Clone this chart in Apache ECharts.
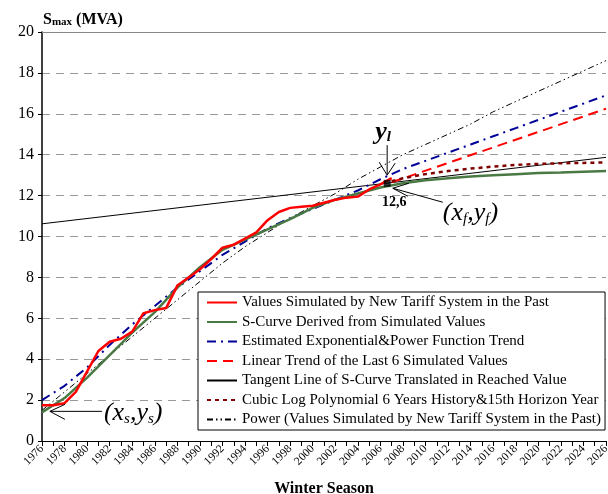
<!DOCTYPE html>
<html>
<head>
<meta charset="utf-8">
<script src="https://cdn.jsdelivr.net/npm/echarts@6/dist/echarts.min.js"></script>
<style>
html, body { margin: 0; padding: 0; background: #fff; }
#chart { width: 608px; height: 494px; }
</style>
</head>
<body>
<div id="chart"></div>
<script>
// values
var pastYears = [1976,1977,1978,1979,1980,1981,1982,1983,1984,1985,1986,1987,1988,1989,1990,1991,
                 1992,1993,1994,1995,1996,1997,1998,1999,2000,2001,2002,2003,2004,2005,2006,2007];
var simulated = [1.75,1.75,1.85,2.4,3.4,4.4,4.85,5.0,5.35,6.25,6.4,6.5,7.6,8.0,8.4,8.9,
                 9.45,9.6,9.9,10.2,10.8,11.2,11.4,11.45,11.5,11.65,11.8,11.9,11.95,12.3,12.55,12.85];

var curveYears = [1976,1978,1980,1982,1984,1986,1988,1990,1992,1994,1996,1998,2000,
                  2002,2004,2006,2008,2010,2012,2014,2016,2018,2020,2022,2024,2026];
var sCurve     = [1.4,2.1,3.1,4.2,5.3,6.3,7.5,8.5,9.35,9.85,10.35,10.85,11.4,
                  11.8,12.1,12.4,12.6,12.75,12.85,12.93,13.0,13.05,13.1,13.13,13.17,13.2];
var expPower   = [2.0,2.7,3.6,4.7,5.7,6.6,7.5,8.3,9.1,9.75,10.4,10.9,11.35,
                  11.8,12.25,12.8,13.3,13.7,14.1,14.5,14.9,15.3,15.7,16.1,16.5,16.9];
var powerFit   = [1.5,2.4,3.3,4.2,5.1,6.0,6.9,7.8,8.7,9.5,10.2,10.9,11.5,
                  12.1,12.8,13.4,14.0,14.5,15.0,15.5,16.1,16.6,17.1,17.6,18.1,18.6];

var tangentYears = [1976, 2026];
var tangent      = [10.62, 13.87];

var linearYears = [2007, 2026];
var linear      = [12.65, 16.25];

var cubicYears = [2007,2008,2010,2012,2014,2016,2018,2020,2022,2024,2026];
var cubic      = [12.7,12.85,13.05,13.2,13.32,13.42,13.5,13.55,13.58,13.6,13.62];

var reachedPoint = [2006.6, 12.6];
var startPoint = [1976.7, 1.45];
var ylPoint = [2006.6, 13.0];
var finalPoint = [2007.1, 12.36];

var names = [
  'Values Simulated by New Tariff System in the Past',
  'S-Curve Derived from Simulated Values',
  'Estimated Exponential&Power Function Trend',
  'Linear Trend of the Last 6 Simulated Values',
  'Tangent Line of S-Curve Translated in Reached Value',
  'Cubic Log Polynomial 6 Years History&15th Horizon Year',
  'Power (Values Simulated by New Tariff System in the Past)'
];

var serif = 'Liberation Serif';

function pairs(xs, ys) {
  return xs.map(function (x, i) { return [x, ys[i]]; });
}

function lineSeries(name, data, color, width, type, z) {
  return {
    name: name, type: 'line', data: data, showSymbol: false, symbol: 'none',
    lineStyle: { color: color, width: width, type: type },
    itemStyle: { color: color },
    z: z || 2, animation: false
  };
}

var chart = echarts.init(document.getElementById('chart'));

var option = {
  animation: false,
  title: {
    text: '{s|S}{m|max}{s| (MVA)}',
    left: 38, top: 6,
    textStyle: {
      rich: {
        s: { fontFamily: serif, fontWeight: 'bold', fontSize: 16, color: '#000' },
        m: { fontFamily: serif, fontWeight: 'bold', fontSize: 11, color: '#000', padding: [6, 0, 0, 0] }
      }
    }
  },
  grid: { left: 42, right: 2, top: 32, bottom: 53, outerBoundsMode: 'none', containLabel: false },
  legend: {
    orient: 'vertical',
    left: 198, top: 292,
    padding: [3, 4, 3, 8],
    itemWidth: 30, itemHeight: 14, itemGap: 4.5,
    itemStyle: { opacity: 0 },
    backgroundColor: '#fff',
    borderColor: '#000', borderWidth: 1, borderRadius: 0,
    textStyle: { fontFamily: serif, fontSize: 15, color: '#000' },
    data: names
  },
  xAxis: {
    type: 'value', min: 1976, max: 2026, interval: 1,
    name: 'Winter Season', nameLocation: 'middle', nameGap: 40,
    nameTextStyle: { fontFamily: serif, fontWeight: 'bold', fontSize: 16, color: '#000' },
    axisLine: { lineStyle: { color: '#000', width: 1 } },
    axisTick: { length: 5, lineStyle: { color: '#000' } },
    axisLabel: {
      rotate: 45, fontFamily: serif, fontSize: 11.5, color: '#000', margin: 6,
      formatter: function (v) { return v % 2 === 0 ? String(v) : ''; }
    },
    splitLine: { show: false }
  },
  yAxis: {
    type: 'value', min: 0, max: 20, interval: 2,
    axisLine: { show: true, lineStyle: { color: '#000', width: 1.5 } },
    axisTick: { show: true, length: 4, lineStyle: { color: '#000' } },
    axisLabel: { fontFamily: serif, fontSize: 16, color: '#000', margin: 8 },
    splitLine: { lineStyle: { color: '#999', type: [8, 6], width: 1 } }
  },
  series: [
    lineSeries(names[0], pairs(pastYears, simulated), '#ff0000', 2.5, 'solid', 6),
    lineSeries(names[1], pairs(curveYears, sCurve), '#4a7a44', 2.5, 'solid', 5),
    lineSeries(names[2], pairs(curveYears, expPower), '#000099', 2, [9, 5, 2, 5], 4),
    lineSeries(names[3], pairs(linearYears, linear), '#ff0000', 2, [10, 6], 4),
    lineSeries(names[4], pairs(tangentYears, tangent), '#000000', 1, 'solid', 3),
    lineSeries(names[5], pairs(cubicYears, cubic), '#800000', 2.5, [4, 4], 4),
    lineSeries(names[6], pairs(curveYears, powerFit), '#000000', 1, [6, 3, 1.5, 3, 1.5, 3], 3),
    {
      type: 'scatter', data: [reachedPoint], symbol: 'rect', symbolSize: 7,
      itemStyle: { color: '#000' }, z: 8, silent: true,
      markLine: {
        silent: true, symbol: 'none', label: { show: false },
        lineStyle: { color: '#888', type: 'solid', width: 1 },
        data: [{ yAxis: 20 }]
      }
    }
  ]
};
chart.setOption(option);

// annotations placed from data coordinates
function px(p) { return chart.convertToPixel({ gridIndex: 0 }, p); }
var thin = { stroke: '#000', lineWidth: 1, fill: null };
var g = [];

var s = px(startPoint);
g.push({ type: 'polyline', shape: { points: [[s[0], s[1]], [s[0] + 52, s[1]]] }, style: thin, z: 20 });
g.push({ type: 'polyline', shape: { points: [[s[0] + 15, s[1] - 7], [s[0], s[1]], [s[0] + 15, s[1] + 8]] }, style: thin, z: 20 });
g.push({ type: 'text', x: s[0] + 54, y: s[1] + 2, z: 20,
  style: { text: '{p|(}{v|x}{sub|s}{p|,}{v|y}{sub|s}{p|)}', verticalAlign: 'middle',
    rich: {
      p: { fontFamily: serif, fontSize: 26, fontStyle: 'italic', fill: '#000' },
      v: { fontFamily: serif, fontSize: 26, fontStyle: 'italic', fill: '#000' },
      sub: { fontFamily: serif, fontSize: 15, fontStyle: 'italic', fill: '#000', padding: [12, 0, 0, 0] }
    } } });

var yl = px(ylPoint);
g.push({ type: 'polyline', shape: { points: [[yl[0], yl[1]], [yl[0], yl[1] - 30]] }, style: thin, z: 20 });
g.push({ type: 'polyline', shape: { points: [[yl[0] - 8, yl[1] - 13], [yl[0], yl[1]], [yl[0] + 8, yl[1] - 12]] }, style: thin, z: 20 });
g.push({ type: 'text', x: yl[0] - 4, y: yl[1] - 30, z: 20,
  style: { text: '{v|y}{sub|l}', align: 'center', verticalAlign: 'bottom',
    rich: {
      v: { fontFamily: serif, fontSize: 26, fontStyle: 'italic', fontWeight: 'bold', fill: '#000' },
      sub: { fontFamily: serif, fontSize: 15, fontStyle: 'italic', fontWeight: 'bold', fill: '#000', padding: [10, 0, 0, 0] }
    } } });

var r = px(reachedPoint);
g.push({ type: 'text', x: r[0] + 7, y: r[1] + 19, z: 20,
  style: { text: '12,6', align: 'center', verticalAlign: 'middle',
    fontFamily: serif, fontSize: 14, fontWeight: 'bold', fill: '#000' } });

var f = px(finalPoint);
g.push({ type: 'polyline', shape: { points: [[f[0], f[1]], [f[0] + 50, f[1] + 14]] }, style: thin, z: 20 });
g.push({ type: 'polyline', shape: { points: [[f[0] + 16, f[1] - 5], [f[0], f[1]], [f[0] + 15, f[1] + 8]] }, style: thin, z: 20 });
g.push({ type: 'text', x: f[0] + 50, y: f[1] + 25, z: 20,
  style: { text: '{p|(}{v|x}{sub|f}{p|,}{v|y}{sub|f}{p|)}', verticalAlign: 'middle',
    rich: {
      p: { fontFamily: serif, fontSize: 26, fontStyle: 'italic', fill: '#000' },
      v: { fontFamily: serif, fontSize: 26, fontStyle: 'italic', fill: '#000' },
      sub: { fontFamily: serif, fontSize: 15, fontStyle: 'italic', fill: '#000', padding: [12, 0, 0, 0] }
    } } });

chart.setOption({ graphic: g });
</script>
</body>
</html>
